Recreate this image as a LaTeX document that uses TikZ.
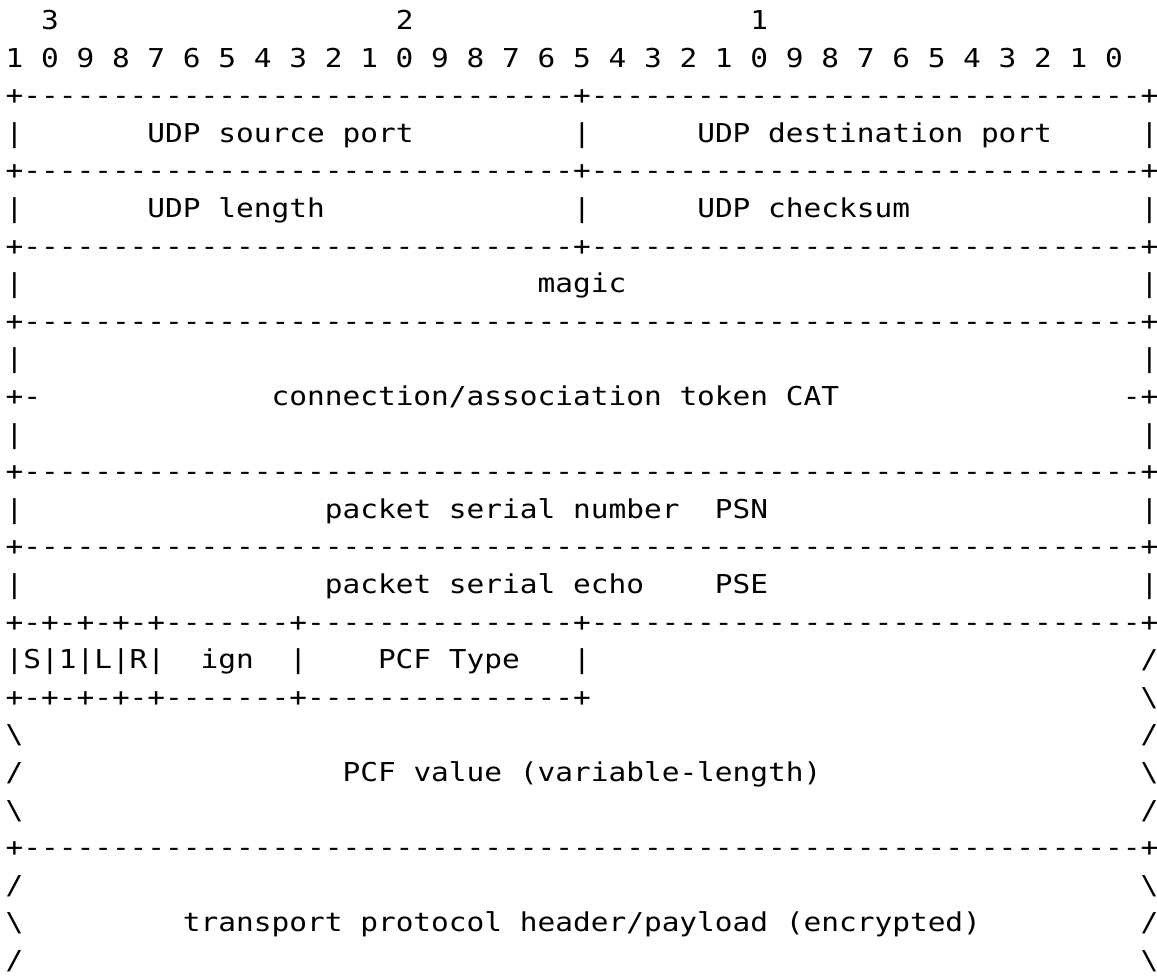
\documentclass[tikz,border=0pt]{standalone}
\usepackage{fontspec}
\setmonofont[FakeStretch=1.133]{DejaVu Sans Mono}
\newlength\cw
\AtBeginDocument{\settowidth\cw{\ttfamily\fontsize{13}{15}\selectfont 0}}
\newcommand\sk[1]{\hspace*{#1\cw}} % run of blanks
\newcommand\dsh[1]{\foreach\dd in {1,...,#1}{-}} % run of dashes
\newcommand\bs{\textbackslash}

\begin{document}
\begin{tikzpicture}[x=8.865pt, y=-18.8pt, shift={(2.8pt,4.05pt)}] % packet header
\tikzstyle{asc} = [anchor=base west, inner sep=0pt, outer sep=0pt, font=\ttfamily\fontsize{13}{15}\selectfont\spaceskip\cw\relax] % one line of the figure
\useasboundingbox (-2.8pt,-4.05pt) rectangle ++(578.5pt,-489pt);

% bit numbers
\node[asc] (row1) at (0,1) {\sk{2}3\sk{19}2\sk{19}1};
\node[asc] (row2) at (0,2) {1 0 9 8 7 6 5 4 3 2 1 0 9 8 7 6 5 4 3 2 1 0 9 8 7 6 5 4 3 2 1 0};
% UDP part
\node[asc] (row3) at (0,3) {+\dsh{31}+\dsh{31}+};
\node[asc] (row4) at (0,4) {|\sk{7}UDP source port\sk{9}|\sk{6}UDP destination port\sk{5}|};
\node[asc] (row5) at (0,5) {+\dsh{31}+\dsh{31}+};
\node[asc] (row6) at (0,6) {|\sk{7}UDP length\sk{14}|\sk{6}UDP checksum\sk{13}|};
\node[asc] (row7) at (0,7) {+\dsh{31}+\dsh{31}+};
% magic, CAT, PSN, PSE
\node[asc] (row8) at (0,8) {|\sk{29}magic\sk{29}|};
\node[asc] (row9) at (0,9) {+\dsh{63}+};
\node[asc] (row10) at (0,10) {|\sk{63}|};
\node[asc] (row11) at (0,11) {+-\sk{13}connection/association token CAT\sk{16}-+};
\node[asc] (row12) at (0,12) {|\sk{63}|};
\node[asc] (row13) at (0,13) {+\dsh{63}+};
\node[asc] (row14) at (0,14) {|\sk{17}packet serial number\sk{2}PSN\sk{21}|};
\node[asc] (row15) at (0,15) {+\dsh{63}+};
\node[asc] (row16) at (0,16) {|\sk{17}packet serial echo\sk{4}PSE\sk{21}|};
% flags and PCF
\node[asc] (row17) at (0,17) {+-+-+-+-+\dsh{7}+\dsh{15}+\dsh{31}+};
\node[asc] (row18) at (0,18) {|S|1|L|R|\sk{2}ign\sk{2}|\sk{4}PCF Type\sk{3}|\sk{31}/};
\node[asc] (row19) at (0,19) {+-+-+-+-+\dsh{7}+\dsh{15}+\sk{31}\bs};
\node[asc] (row20) at (0,20) {\bs\sk{63}/};
\node[asc] (row21) at (0,21) {/\sk{18}PCF value (variable-length)\sk{18}\bs};
\node[asc] (row22) at (0,22) {\bs\sk{63}/};
\node[asc] (row23) at (0,23) {+\dsh{63}+};
% payload
\node[asc] (row24) at (0,24) {/\sk{63}\bs};
\node[asc] (row25) at (0,25) {\bs\sk{9}transport protocol header/payload (encrypted)\sk{9}/};
\node[asc] (row26) at (0,26) {/\sk{63}\bs};
\end{tikzpicture}
\end{document}
